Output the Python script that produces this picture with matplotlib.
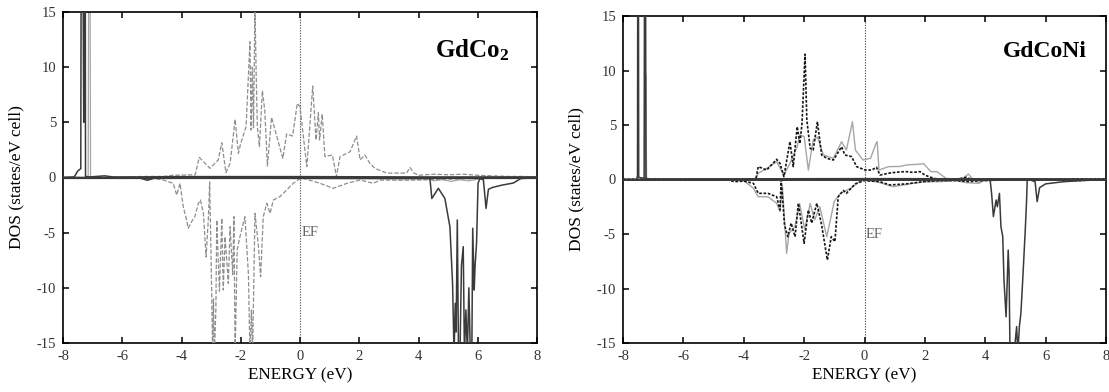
import matplotlib
matplotlib.use("Agg")
import matplotlib.pyplot as plt

plt.rcParams["font.family"] = ["Liberation Serif", "DejaVu Serif"]
plt.rcParams["axes.unicode_minus"] = False
plt.rcParams["mathtext.fontset"] = "custom"
plt.rcParams["mathtext.rm"] = "Liberation Serif"
plt.rcParams["mathtext.bf"] = "Liberation Serif:bold"

# ---------------- GdCo2 ----------------
gdco2_gd_up_e = [-8.0, -7.62, -7.5, -7.4, -7.37, -7.30, -7.26, -7.24, -7.1, -6.6, -6.3, -5.5, -4.0, 0.0, 4.0, 8.0]
gdco2_gd_up = [0.0, 0.05, 0.6, 0.8, 45.0, 5.0, 45.0, 0.1, 0.05, 0.15, 0.05, 0.05, 0.08, 0.08, 0.05, 0.05]

gdco2_gd_dn_e = [-8.0, -5.4, -5.15, -4.9, -4.0, 4.35, 4.39, 4.45, 4.67, 4.89, 5.06, 5.15, 5.20, 5.24,
                 5.27, 5.31, 5.35, 5.40, 5.45, 5.51, 5.55, 5.60, 5.65, 5.70, 5.75, 5.80, 5.83, 5.88,
                 5.91, 5.96, 6.01, 6.07, 6.19, 6.28, 6.36, 6.5, 6.8, 7.2, 7.45, 8.0]
gdco2_gd_dn = [0.0, -0.05, -0.25, -0.05, -0.05, -0.1, -0.2, -1.9, -0.98, -1.9, -4.46, -9.6, -16.0, -11.4,
               -14.0, -3.85, -16.0, -16.0, -8.0, -6.27, -16.0, -12.0, -16.0, -10.0, -16.0, -16.0, -4.6, -10.2,
               -8.0, -5.9, -0.53, -0.1, -0.2, -2.8, -1.07, -0.9, -0.7, -0.5, -0.1, 0.0]

gdco2_co_up_e = [-8.0, -6.5, -6.0, -5.2, -4.6, -4.3, -3.6, -3.54, -3.40, -3.04, -2.76, -2.64, -2.50, -2.36,
                 -2.19, -2.08, -2.00, -1.82, -1.69, -1.65, -1.61, -1.57, -1.52, -1.48, -1.44, -1.37, -1.27,
                 -1.19, -1.10, -0.96, -0.58, -0.45, -0.25, -0.09, 0.0, 0.23, 0.43, 0.54, 0.62, 0.66, 0.75,
                 0.84, 1.09, 1.18, 1.23, 1.35, 1.69, 1.91, 2.03, 2.19, 2.36, 2.53, 2.93, 3.6, 3.71, 3.85,
                 4.0, 4.5, 5.0, 5.5, 6.0, 6.5, 7.0, 7.5, 8.0]
gdco2_co_up = [0.0, 0.0, 0.05, 0.1, 0.1, 0.2, 0.25, 0.23, 1.83, 0.83, 1.59, 3.15, 0.44, 1.28,
               5.27, 2.19, 3.10, 4.6, 12.3, 4.3, 10.0, 4.5, 15.5, 9.5, 4.6, 2.8, 7.87,
               6.1, 1.04, 5.45, 1.74, 3.94, 3.76, 6.72, 6.4, 0.98, 8.29, 3.4, 5.87, 3.4, 5.75,
               1.89, 2.04, 0.83, 0.07, 1.89, 2.34, 3.76, 1.59, 2.04, 1.28, 0.83, 0.4, 0.4, 0.92, 0.4,
               0.2, 0.3, 0.25, 0.3, 0.2, 0.15, 0.1, 0.1, 0.05]

gdco2_co_dn_e = [-8.0, -5.5, -5.2, -5.0, -4.61, -4.28, -4.16, -4.05, -3.94, -3.83, -3.77, -3.66, -3.55,
                 -3.43, -3.36, -3.26, -3.17, -3.09, -3.05, -2.98, -2.95, -2.92, -2.89, -2.84, -2.81,
                 -2.72, -2.64, -2.59, -2.53, -2.42, -2.36, -2.27, -2.23, -2.19, -2.12, -2.03, -1.86,
                 -1.74, -1.69, -1.64, -1.60, -1.52, -1.41, -1.33, -1.24, -1.12, -1.01, -0.90, -0.68,
                 -0.45, -0.23, 0.0, 0.11, 0.68, 1.12, 1.58, 2.03, 2.48, 2.70, 3.38, 4.05, 5.0, 6.0,
                 7.0, 8.0]
gdco2_co_dn = [0.0, 0.0, -0.2, -0.05, -0.23, -0.53, -1.59, -0.53, -2.64, -3.85, -4.6, -4.0, -3.55,
               -2.34, -2.04, -3.25, -7.2, -3.55, -0.4, -10.5, -16.0, -11.0, -16.0, -12.0, -3.85,
               -10.3, -3.7, -10.2, -5.37, -9.6, -4.46, -8.8, -3.55, -16.0, -6.57, -5.4, -3.55,
               -8.8, -16.0, -12.0, -16.0, -3.25, -6.0, -9.0, -3.55, -2.34, -3.25, -2.04, -1.74,
               -1.13, -0.53, -0.1, -0.07, -0.53, -0.98, -0.53, -0.23, -0.53, -0.23, -0.25, -0.23,
               -0.15, -0.1, -0.05, 0.0]

gdco2_gd5d_e = [-8.0, -7.15, -7.11, -7.07, -6.0, 4.3, 4.5, 4.8, 5.1, 5.4, 5.7, 6.0, 6.3, 7.0, 8.0]
gdco2_gd5d = [0.0, 0.0, 45.0, 0.0, 0.0, 0.0, -0.3, -0.2, -0.35, -0.2, -0.3, -0.15, -0.05, 0.0, 0.0]

# ---------------- GdCoNi ----------------
gdconi_gd_up_e = [-8.0, -7.56, -7.52, -7.50, -7.48, -7.30, -7.27, -7.24, -7.1, 0.0, 8.0]
gdconi_gd_up = [0.0, 0.0, 0.3, 45.0, 0.2, 0.1, 45.0, 0.1, 0.05, 0.08, 0.05]

gdconi_gd_dn_e = [-8.0, 4.1, 4.16, 4.21, 4.27, 4.36, 4.40, 4.47, 4.52, 4.58, 4.62, 4.69, 4.73, 4.76,
                  4.79, 4.82, 4.86, 4.90, 4.97, 5.04, 5.08, 5.13, 5.18, 5.23, 5.32, 5.37, 5.39, 5.45,
                  5.65, 5.72, 5.80, 6.0, 6.6, 7.2, 8.0]
gdconi_gd_dn = [0.0, -0.05, 0.0, -1.27, -3.4, -1.88, -2.5, -1.27, -4.33, -5.25, -9.2, -12.6, -9.2, -6.47,
                -8.6, -16.0, -16.0, -16.0, -15.5, -13.5, -16.0, -13.5, -12.3, -9.8, -4.94, -1.88, -0.1, 0.0,
                -0.2, -2.03, -0.75, -0.4, -0.2, -0.1, 0.0]

gdconi_co_up_e = [-8.0, -4.5, -4.2, -3.9, -3.6, -3.52, -3.24, -2.91, -2.80, -2.67, -2.47, -2.36, -2.23,
                  -2.14, -2.07, -1.97, -1.91, -1.80, -1.70, -1.56, -1.42, -1.25, -1.03, -0.76, -0.65,
                  -0.43, -0.26, 0.02, 0.24, 0.40, 0.51, 0.85, 1.18, 1.39, 1.60, 1.84, 2.0, 2.3, 2.7,
                  3.0, 3.38, 3.6, 4.0, 5.0, 6.0, 7.0, 8.0]
gdconi_co_up = [0.0, 0.0, -0.1, -0.1, 0.0, 1.18, 0.87, 1.85, 1.48, 0.26, 3.47, 1.18, 4.84,
                3.3, 5.15, 11.5, 5.46, 2.86, 2.7, 5.3, 2.25, 1.94, 1.79, 3.0, 2.25,
                2.1, 1.18, 0.87, 0.87, 1.12, 0.41, 0.6, 0.7, 0.72, 0.65, 0.72, 0.4, 0.1, -0.1,
                0.0, 0.2, -0.05, -0.1, 0.0, 0.0, 0.05, 0.05]

gdconi_co_dn_e = [-8.0, -4.6, -4.3, -4.0, -3.68, -3.52, -3.2, -2.91, -2.80, -2.76, -2.65, -2.54, -2.43,
                  -2.30, -2.19, -2.00, -1.86, -1.75, -1.58, -1.42, -1.23, -1.10, -0.98, -0.87, -0.70,
                  -0.60, -0.31, 0.0, 0.5, 0.84, 1.39, 1.95, 2.5, 3.0, 3.5, 3.8, 4.2, 5.0, 6.0, 7.0, 8.0]
gdconi_co_dn = [0.0, 0.0, -0.2, -0.15, -0.35, -1.27, -1.27, -1.58, -2.8, -0.05, -4.17, -5.25, -4.0,
                -5.25, -2.18, -5.85, -2.8, -4.0, -2.18, -4.17, -7.38, -5.25, -5.7, -1.58, -1.0,
                -1.27, -0.4, -0.1, -0.2, -0.5, -0.4, -0.2, -0.1, -0.1, -0.2, -0.1, -0.05, 0.0, 0.0, -0.1, 0.0]

gdconi_ni_up_e = [-8.0, -7.3, -7.26, -7.25, -7.22, -7.0, -4.5, -4.0, -3.6, -3.52, -3.24, -2.91, -2.67,
                  -2.47, -2.23, -2.14, -2.00, -1.86, -1.70, -1.56, -1.36, -1.03, -0.76, -0.60, -0.40,
                  -0.30, -0.05, 0.20, 0.38, 0.42, 0.48, 0.8, 1.18, 1.39, 1.89, 1.95, 2.2, 2.4, 2.8,
                  3.2, 3.44, 3.6, 3.77, 4.0, 5.0, 6.0, 7.0, 8.0]
gdconi_ni_up = [0.0, 0.0, 0.0, 9.6, 0.0, 0.0, 0.0, 0.0, 0.1, 0.57, 1.02, 1.63, 0.41,
                1.48, 3.0, 4.08, 3.93, 0.87, 3.62, 3.9, 2.25, 1.94, 3.47, 2.7, 5.3,
                2.7, 1.79, 1.94, 3.3, 3.47, 0.87, 1.18, 1.2, 1.33, 1.42, 1.48, 0.72, 0.72, -0.1,
                0.0, 0.5, 0.0, -0.3, 0.0, 0.05, 0.0, 0.0, 0.0]

gdconi_ni_dn_e = [-8.0, -4.5, -4.0, -3.68, -3.52, -3.2, -2.91, -2.80, -2.72, -2.58, -2.50, -2.30, -2.15,
                  -1.98, -1.80, -1.65, -1.48, -1.25, -1.0, -0.8, -0.45, -0.1, 0.4, 0.95, 1.5, 2.0, 2.5,
                  3.0, 3.4, 3.8, 4.0, 5.0, 6.0, 7.0, 8.0]
gdconi_ni_dn = [0.0, 0.0, -0.1, -0.8, -1.58, -1.58, -2.18, -2.95, -0.6, -6.77, -4.94, -4.3, -2.2,
                -4.6, -2.2, -3.7, -2.5, -5.25, -2.0, -1.27, -0.8, -0.05, -0.2, -0.66, -0.4, -0.2, -0.2,
                -0.1, -0.3, -0.35, 0.0, 0.0, 0.0, 0.0, 0.0]

x_ticks = [-8, -6, -4, -2, 0, 2, 4, 6, 8]
y_ticks = [-15, -10, -5, 0, 5, 10, 15]

DARK = "#3a3a3a"
GREY = "#8e8e8e"
LIGHT = "#a6a6a6"
BLACK = "#151515"

fig = plt.figure(figsize=(11.09, 3.92), dpi=100)
ax1 = fig.add_axes([63 / 1109, 1 - 343 / 392, (537 - 63) / 1109, (343 - 12) / 392])
ax2 = fig.add_axes([623 / 1109, 1 - 343 / 392, (1106 - 623) / 1109, (343 - 16) / 392])


def style(ax):
    ax.set_xlim(-8, 8)
    ax.set_ylim(-15, 15)
    ax.set_xticks(x_ticks)
    ax.set_yticks(y_ticks)
    ax.set_xticklabels([str(t) for t in x_ticks])
    ax.set_yticklabels([str(t) for t in y_ticks])
    ax.tick_params(direction="in", top=True, right=True, length=4.5, width=1.1,
                   labelsize=10.5, labelcolor="#333333", pad=5)
    for s in ax.spines.values():
        s.set_linewidth(1.2)
    ax.set_xlabel("ENERGY (eV)", fontsize=12.3, labelpad=3)
    ax.set_ylabel("DOS (states/eV cell)", fontsize=12.5, labelpad=9)
    ax.axvline(0, color="#555555", lw=0.8, ls=(0, (1.2, 1.2)), zorder=1)
    ax.text(0.05, -5.0, "EF", fontsize=10.5, color="#666666", va="center", ha="left")


# GdCo2 panel
style(ax1)
ax1.plot(gdco2_gd5d_e, gdco2_gd5d, color=LIGHT, lw=0.9, zorder=2)
ax1.plot(gdco2_co_up_e, gdco2_co_up, color=GREY, lw=0.9, ls=(0, (3.5, 1.5)), zorder=3)
ax1.plot(gdco2_co_dn_e, gdco2_co_dn, color=GREY, lw=0.9, ls=(0, (3.5, 1.5)), zorder=3)
ax1.plot(gdco2_gd_up_e, gdco2_gd_up, color=DARK, lw=1.1, zorder=4)
ax1.plot(gdco2_gd_dn_e, gdco2_gd_dn, color=DARK, lw=1.1, zorder=4)
ax1.axhline(0, color=DARK, lw=1.6, zorder=4)
ax1.text(4.56, 10.9, r"$\mathbf{GdCo_2}$", fontsize=18, ha="left", va="baseline")

# GdCoNi panel
style(ax2)
ax2.plot(gdconi_ni_up_e, gdconi_ni_up, color=LIGHT, lw=1.0, zorder=2)
ax2.plot(gdconi_ni_dn_e, gdconi_ni_dn, color=LIGHT, lw=1.0, zorder=2)
ax2.plot(gdconi_co_up_e, gdconi_co_up, color=BLACK, lw=1.2, ls=(0, (1.6, 1.0)), zorder=3)
ax2.plot(gdconi_co_dn_e, gdconi_co_dn, color=BLACK, lw=1.2, ls=(0, (1.6, 1.0)), zorder=3)
ax2.plot(gdconi_gd_up_e, gdconi_gd_up, color=DARK, lw=1.1, zorder=4)
ax2.plot(gdconi_gd_dn_e, gdconi_gd_dn, color=DARK, lw=1.1, zorder=4)
ax2.axhline(0, color=DARK, lw=1.4, zorder=4)
ax2.text(4.59, 11.2, "GdCoNi", fontsize=17, fontweight="bold", ha="left", va="baseline")

fig.savefig("out.png", dpi=100, facecolor="white")
